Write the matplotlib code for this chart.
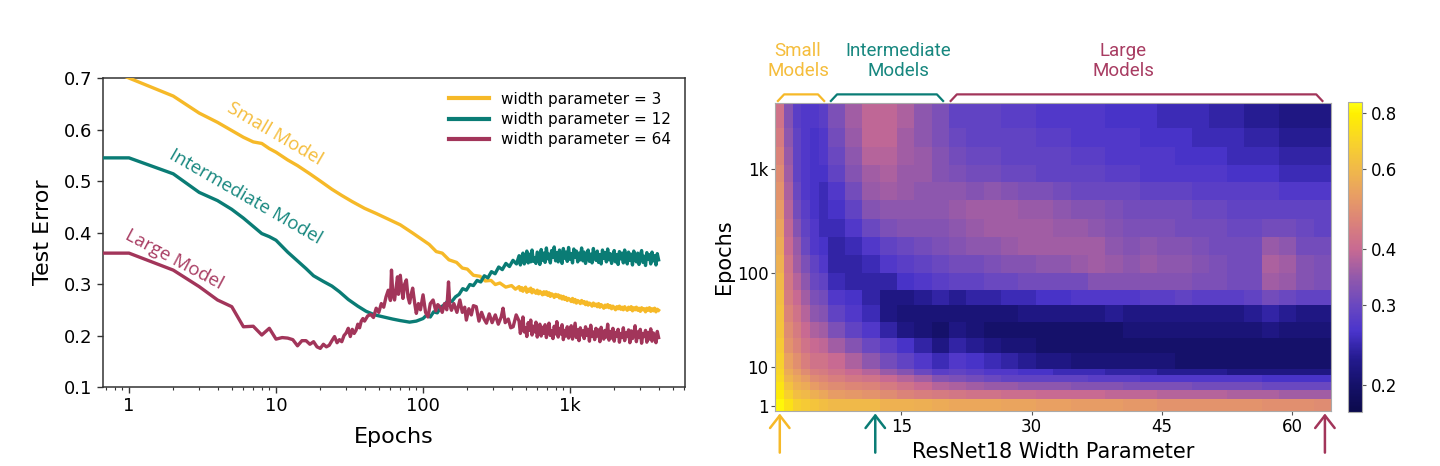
import numpy as np
import matplotlib
matplotlib.use("Agg")
import matplotlib.pyplot as plt
from matplotlib.colors import LinearSegmentedColormap, LogNorm
from matplotlib.ticker import FixedLocator, NullLocator, FixedFormatter, NullFormatter
import matplotlib.transforms as mtransforms

plt.rcParams['font.family'] = ['DejaVu Sans']

# ---------------- data: left panel (test error vs epochs) ----------------
series_labels = ["width parameter = 3", "width parameter = 12", "width parameter = 64"]

small_head_epochs = [0.5, 1, 2, 3, 4, 5, 6, 7, 8, 9, 10, 12, 14, 17, 20, 24, 28, 33, 40, 48,
                     57, 70, 85, 100, 110, 123, 135, 150, 169, 185, 200, 220, 244, 265, 290, 310,
                     333, 365, 400, 425]
small_head = [0.735, 0.700, 0.665, 0.632, 0.614, 0.598, 0.585, 0.576, 0.573, 0.563,
              0.556, 0.541, 0.530, 0.514, 0.500, 0.484, 0.472, 0.460, 0.447, 0.437,
              0.427, 0.415, 0.399, 0.385, 0.377, 0.363, 0.360, 0.347, 0.342, 0.331,
              0.329, 0.317, 0.315, 0.306, 0.307, 0.299, 0.302, 0.294, 0.297, 0.290]

mid_head_epochs = [0.5, 1, 2, 3, 4, 5, 6, 7, 8, 9, 10, 12, 14, 16, 18, 21, 24, 27, 31, 36,
                   41, 47, 54, 62, 70, 81, 90, 100, 106, 112, 118, 125, 132, 140, 148, 157,
                   166, 176, 186, 197, 208, 220, 233, 247, 261, 276, 292, 309, 327, 346,
                   366, 387, 409, 432]
mid_head = [0.545, 0.545, 0.514, 0.478, 0.462, 0.445, 0.428, 0.412, 0.398, 0.392,
            0.385, 0.362, 0.345, 0.330, 0.316, 0.305, 0.296, 0.285, 0.270, 0.257,
            0.247, 0.240, 0.236, 0.232, 0.229, 0.226, 0.228, 0.233, 0.240, 0.236,
            0.246, 0.244, 0.255, 0.260, 0.268, 0.266, 0.275, 0.280, 0.291, 0.288,
            0.299, 0.297, 0.307, 0.304, 0.316, 0.312, 0.324, 0.320, 0.333, 0.328,
            0.340, 0.334, 0.346, 0.339]

large_head_epochs = [0.5, 1, 2, 3, 4, 5, 6, 7, 8, 9,
                     10, 11, 12, 13, 14, 15, 16, 17, 18, 19,
                     20, 21, 22, 23, 24, 25, 26, 27, 28, 29,
                     30, 31, 32, 33, 34, 35, 36, 37, 38, 39,
                     40, 42, 44, 46, 48, 50, 52, 54, 56, 58,
                     60, 61, 62, 63, 64, 66, 67, 68, 70, 72,
                     73, 75, 77, 79, 81, 83, 85, 88, 90, 93,
                     96, 100, 104, 108, 112, 117, 122, 126, 130, 135,
                     140, 145, 149, 152, 156, 162, 170, 178, 185, 192,
                     197, 205, 213, 220, 230, 240, 250, 260, 270, 282,
                     295, 310, 325, 340, 350, 362, 380, 395, 410, 430]
large_head = [0.360, 0.360, 0.327, 0.295, 0.269, 0.256, 0.217, 0.218, 0.201, 0.214,
              0.193, 0.196, 0.195, 0.192, 0.180, 0.190, 0.190, 0.183, 0.188, 0.178,
              0.175, 0.183, 0.178, 0.181, 0.190, 0.198, 0.186, 0.192, 0.188, 0.200,
              0.205, 0.214, 0.198, 0.212, 0.204, 0.210, 0.222, 0.215, 0.228, 0.233,
              0.228, 0.238, 0.241, 0.235, 0.253, 0.245, 0.262, 0.255, 0.275, 0.288,
              0.268, 0.327, 0.290, 0.275, 0.269, 0.300, 0.314, 0.280, 0.317, 0.285,
              0.272, 0.300, 0.308, 0.275, 0.263, 0.280, 0.292, 0.260, 0.243, 0.262,
              0.250, 0.279, 0.245, 0.236, 0.262, 0.269, 0.248, 0.260, 0.256, 0.245,
              0.262, 0.250, 0.304, 0.260, 0.249, 0.262, 0.245, 0.269, 0.245, 0.255,
              0.230, 0.252, 0.240, 0.258, 0.256, 0.228, 0.245, 0.232, 0.224, 0.242,
              0.225, 0.240, 0.222, 0.236, 0.253, 0.225, 0.232, 0.215, 0.217, 0.240]

tail_epochs = [450, 459, 469, 478, 488, 498, 508, 519, 529, 540,
               551, 563, 574, 586, 598, 611, 623, 636, 649, 663,
               676, 690, 705, 719, 734, 749, 765, 780, 797, 813,
               830, 847, 864, 882, 900, 919, 938, 957, 977, 997,
               1018, 1039, 1060, 1082, 1104, 1127, 1150, 1174, 1198, 1223,
               1248, 1274, 1300, 1327, 1354, 1382, 1411, 1440, 1470, 1500,
               1531, 1562, 1595, 1627, 1661, 1695, 1730, 1766, 1802, 1840,
               1878, 1916, 1956, 1996, 2037, 2079, 2122, 2166, 2211, 2257,
               2303, 2351, 2399, 2449, 2499, 2551, 2604, 2657, 2712, 2768,
               2825, 2884, 2943, 3004, 3066, 3129, 3194, 3260, 3327, 3396,
               3466, 3537, 3610, 3685, 3761, 3839, 3918, 4000]
small_tail = [0.295, 0.288, 0.293, 0.286, 0.291, 0.294, 0.284, 0.290, 0.286, 0.292,
              0.283, 0.289, 0.285, 0.282, 0.288, 0.281, 0.286, 0.283, 0.279, 0.285,
              0.280, 0.285, 0.278, 0.283, 0.276, 0.281, 0.279, 0.274, 0.280, 0.276,
              0.279, 0.273, 0.277, 0.271, 0.276, 0.270, 0.274, 0.268, 0.272, 0.270,
              0.266, 0.272, 0.265, 0.270, 0.263, 0.268, 0.266, 0.262, 0.268, 0.263,
              0.266, 0.260, 0.265, 0.259, 0.263, 0.261, 0.257, 0.263, 0.258, 0.261,
              0.256, 0.262, 0.255, 0.260, 0.257, 0.253, 0.259, 0.255, 0.260, 0.254,
              0.258, 0.252, 0.257, 0.254, 0.250, 0.256, 0.252, 0.257, 0.251, 0.255,
              0.250, 0.256, 0.252, 0.249, 0.255, 0.251, 0.256, 0.248, 0.254, 0.250,
              0.255, 0.249, 0.253, 0.247, 0.254, 0.250, 0.252, 0.246, 0.253, 0.249,
              0.254, 0.247, 0.252, 0.248, 0.253, 0.246, 0.251, 0.249]
mid_tail = [0.355, 0.337, 0.352, 0.360, 0.339, 0.349, 0.364, 0.341, 0.358, 0.343,
            0.366, 0.344, 0.351, 0.340, 0.362, 0.357, 0.338, 0.367, 0.346, 0.360,
            0.342, 0.370, 0.349, 0.358, 0.341, 0.365, 0.352, 0.372, 0.345, 0.361,
            0.343, 0.366, 0.355, 0.340, 0.369, 0.350, 0.362, 0.344, 0.371, 0.348,
            0.359, 0.341, 0.368, 0.352, 0.364, 0.343, 0.360, 0.347, 0.370, 0.345,
            0.362, 0.340, 0.355, 0.366, 0.344, 0.358, 0.341, 0.369, 0.351, 0.346,
            0.364, 0.342, 0.357, 0.339, 0.366, 0.350, 0.361, 0.343, 0.368, 0.347,
            0.359, 0.340, 0.354, 0.365, 0.343, 0.357, 0.338, 0.363, 0.349, 0.360,
            0.341, 0.366, 0.352, 0.339, 0.362, 0.346, 0.358, 0.337, 0.364, 0.350,
            0.343, 0.360, 0.338, 0.356, 0.365, 0.342, 0.354, 0.336, 0.361, 0.348,
            0.357, 0.339, 0.362, 0.345, 0.355, 0.337, 0.359, 0.347]
large_tail = [0.228, 0.204, 0.219, 0.236, 0.207, 0.215, 0.198, 0.225, 0.210, 0.230,
              0.201, 0.218, 0.207, 0.226, 0.197, 0.213, 0.222, 0.199, 0.216, 0.204,
              0.221, 0.196, 0.212, 0.224, 0.200, 0.209, 0.194, 0.218, 0.203, 0.227,
              0.197, 0.214, 0.203, 0.221, 0.192, 0.210, 0.199, 0.217, 0.195, 0.206,
              0.219, 0.193, 0.208, 0.224, 0.196, 0.211, 0.190, 0.215, 0.201, 0.209,
              0.194, 0.217, 0.200, 0.212, 0.189, 0.220, 0.198, 0.207, 0.192, 0.214,
              0.199, 0.211, 0.188, 0.216, 0.202, 0.193, 0.210, 0.197, 0.222, 0.191,
              0.208, 0.195, 0.214, 0.189, 0.206, 0.199, 0.212, 0.187, 0.204, 0.196,
              0.215, 0.190, 0.205, 0.198, 0.211, 0.186, 0.209, 0.194, 0.203, 0.219,
              0.188, 0.207, 0.196, 0.212, 0.185, 0.204, 0.198, 0.210, 0.187, 0.206,
              0.193, 0.213, 0.189, 0.205, 0.197, 0.186, 0.208, 0.196]

# ---------------- data: right panel (heatmap) ----------------
width_starts = [1, 2, 3, 4, 5, 6, 7, 9, 11, 13, 15, 17, 19, 21, 23, 25, 27, 29, 31, 33,
                35, 37, 39, 41, 43, 45, 47, 49, 51, 53, 55, 57, 59, 61, 63]
max_width = 64
# row edges in epochs (top -> bottom)
epoch_edges = [4400, 2500, 1650, 1100, 750, 500, 330, 220, 150, 100, 65, 45, 30, 20, 14,
               9, 6, 4, 2.5, 1.5, 0.75]
# test error (%) per width group, rows from top (most epochs) to bottom (epoch 1)
err_w1 = [42, 44, 46, 48, 50, 52, 54, 56, 58, 60, 62, 63, 64, 66, 68, 70, 72, 75, 78, 82]
err_w2 = [33, 34, 35, 36, 37, 38, 39, 40, 42, 43, 44, 46, 48, 50, 53, 56, 59, 63, 68, 74]
err_w3 = [28, 29, 29, 29, 30, 31, 33, 35, 36, 38, 40, 42, 44, 46, 49, 52, 55, 58, 62, 68]
err_w4 = [27, 27, 27, 27, 27, 28, 29, 30, 32, 34, 36, 38, 40, 42, 45, 48, 52, 56, 60, 66]
err_w5 = [27, 26, 26, 26, 26, 26, 27, 27, 29, 30, 32, 34, 37, 40, 42, 45, 48, 52, 57, 64]
err_w6 = [28, 27, 27, 26, 25, 25, 25, 26, 27, 29, 31, 33, 36, 39, 42, 44, 47, 50, 55, 62]
err_w7_8 = [32, 31, 30, 29, 27, 26, 25, 24, 24, 25, 27, 29, 32, 36, 40, 42, 45, 48, 52, 60]
err_w9_10 = [36, 35, 34, 33, 31, 29, 27, 25, 24, 24, 26, 27, 29, 33, 37, 40, 43, 47, 51, 60]
err_w11_12 = [39, 39, 38, 36, 35, 33, 30, 27, 25, 24, 24, 25, 27, 30, 34, 38, 42, 46, 50, 60]
err_w13_14 = [39, 39, 38, 37, 36, 34, 32, 29, 27, 24, 22, 22, 24, 28, 31, 35, 40, 44, 48, 58]
err_w15_16 = [37, 36, 36, 35, 35, 34, 33, 30, 28, 26, 22, 21, 22, 26, 29, 33, 38, 42, 46, 58]
err_w17_18 = [34, 34, 35, 35, 34, 34, 33, 31, 29, 27, 23, 21, 21, 24, 27, 30, 36, 40, 45, 57]
err_w19_20 = [32, 32, 33, 33, 34, 34, 33, 32, 30, 28, 24, 21, 20, 22, 25, 28, 33, 38, 44, 56]
err_w21_22 = [29, 30, 31, 32, 34, 35, 34, 33, 31, 29, 23, 21, 22, 24, 27, 29, 32, 37, 43, 55]
err_w23_24 = [29, 29, 30, 31, 33, 36, 35, 34, 31, 29, 24, 21, 21, 23, 26, 28, 31, 36, 42, 55]
err_w25_26 = [29, 29, 30, 31, 34, 36, 36, 34, 32, 30, 24, 21, 20, 22, 25, 27, 30, 35, 42, 55]
err_w27_28 = [28, 29, 29, 30, 33, 36, 36, 35, 33, 30, 25, 21, 20, 21, 24, 27, 29, 35, 41, 54]
err_w29_30 = [28, 29, 29, 30, 32, 35, 36, 36, 33, 31, 25, 22, 20, 21, 23, 26, 29, 34, 41, 54]
err_w31_32 = [27, 28, 29, 29, 32, 35, 36, 36, 34, 31, 26, 22, 20, 20, 22, 26, 29, 34, 40, 53]
err_w33_34 = [27, 28, 29, 29, 31, 34, 35, 36, 34, 31, 26, 22, 20, 20, 22, 25, 29, 34, 40, 53]
err_w35_36 = [27, 27, 28, 29, 30, 33, 35, 36, 35, 31, 27, 22, 20, 20, 21, 25, 29, 33, 40, 52]
err_w37_38 = [27, 27, 28, 29, 30, 33, 34, 36, 36, 33, 27, 22, 20, 20, 21, 25, 28, 33, 40, 52]
err_w39_40 = [26, 27, 27, 28, 30, 32, 33, 34, 35, 33, 27, 23, 20, 20, 21, 24, 28, 33, 39, 52]
err_w41_42 = [26, 27, 27, 28, 30, 31, 32, 33, 34, 33, 27, 22, 21, 20, 21, 24, 28, 32, 39, 51]
err_w43_44 = [26, 26, 27, 27, 29, 31, 32, 34, 35, 33, 28, 22, 21, 20, 21, 24, 27, 32, 39, 51]
err_w45_46 = [25, 26, 27, 27, 29, 31, 32, 33, 34, 33, 28, 22, 21, 20, 21, 23, 27, 32, 38, 50]
err_w47_48 = [25, 26, 26, 27, 29, 31, 31, 33, 34, 33, 29, 22, 21, 20, 20, 23, 27, 32, 38, 50]
err_w49_50 = [25, 25, 26, 27, 28, 30, 31, 32, 33, 32, 28, 22, 21, 20, 20, 23, 27, 31, 38, 50]
err_w51_52 = [24, 25, 26, 27, 28, 30, 31, 31, 32, 32, 28, 22, 21, 20, 20, 23, 27, 31, 38, 50]
err_w53_54 = [24, 25, 25, 26, 28, 29, 30, 31, 31, 31, 28, 22, 21, 20, 20, 22, 27, 31, 37, 50]
err_w55_56 = [23, 24, 25, 26, 28, 29, 30, 31, 31, 31, 29, 23, 21, 20, 20, 22, 27, 31, 37, 50]
err_w57_58 = [23, 24, 25, 26, 28, 29, 31, 35, 37, 36, 31, 24, 22, 20, 20, 22, 26, 30, 37, 49]
err_w59_60 = [22, 23, 24, 25, 27, 29, 31, 34, 36, 35, 30, 23, 21, 20, 20, 22, 26, 30, 36, 49]
err_w61_62 = [22, 23, 24, 25, 27, 29, 30, 31, 33, 33, 29, 22, 21, 20, 20, 22, 26, 30, 36, 49]
err_w63_64 = [22, 23, 24, 25, 27, 29, 29, 31, 32, 32, 29, 22, 21, 20, 20, 22, 26, 30, 36, 48]

err_columns = [err_w1, err_w2, err_w3, err_w4, err_w5, err_w6, err_w7_8, err_w9_10,
               err_w11_12, err_w13_14, err_w15_16, err_w17_18, err_w19_20, err_w21_22,
               err_w23_24, err_w25_26, err_w27_28, err_w29_30, err_w31_32, err_w33_34,
               err_w35_36, err_w37_38, err_w39_40, err_w41_42, err_w43_44, err_w45_46,
               err_w47_48, err_w49_50, err_w51_52, err_w53_54, err_w55_56, err_w57_58,
               err_w59_60, err_w61_62, err_w63_64]

cbar_ticks = [0.2, 0.3, 0.4, 0.6, 0.8]
heat_yticks = [1, 10, 100, 1000]
heat_yticklabels = ["1", "10", "100", "1k"]
heat_xticks = [15, 30, 45, 60]

# ---------------- styling ----------------
C_SMALL = "#f6b928"
C_MID = "#0a7c75"
C_LARGE = "#a2355a"
T_SMALL = "#f5bd3c"
T_MID = "#17877f"
T_LARGE = "#a83c62"

fig = plt.figure(figsize=(14.4, 4.66), dpi=100)

# ================= left panel =================
ax = fig.add_axes([0.0715, 0.1695, 0.4042, 0.663])
ax.plot(small_head_epochs + tail_epochs, small_head + small_tail, color=C_SMALL, lw=2.4,
        label=series_labels[0], zorder=3)
ax.plot(mid_head_epochs + tail_epochs, mid_head + mid_tail, color=C_MID, lw=2.4,
        label=series_labels[1], zorder=3)
ax.plot(large_head_epochs + tail_epochs, large_head + large_tail, color=C_LARGE, lw=2.4,
        label=series_labels[2], zorder=4)
ax.set_xscale("log")
ax.set_xlim(0.665, 6050)
ax.set_ylim(0.1, 0.7)
ax.xaxis.set_major_locator(FixedLocator([1, 10, 100, 1000]))
ax.xaxis.set_major_formatter(FixedFormatter(["1", "10", "100", "1k"]))
ax.xaxis.set_minor_formatter(NullFormatter())
ax.set_yticks([0.1, 0.2, 0.3, 0.4, 0.5, 0.6, 0.7])
ax.set_yticklabels(["0.1", "0.2", "0.3", "0.4", "0.5", "0.6", "0.7"])
ax.tick_params(axis="both", which="major", labelsize=13, length=4, width=1, color="#333333")
ax.tick_params(axis="x", which="minor", length=2.5, width=0.8, color="#333333")
for s in ax.spines.values():
    s.set_color("#333333")
    s.set_linewidth(1.1)
ax.set_xlabel("Epochs", fontsize=16, labelpad=8)
ax.set_ylabel("Test Error", fontsize=16, labelpad=8)
leg = ax.legend(loc="upper right", frameon=False, fontsize=11, handlelength=2.6,
                labelspacing=0.35, borderaxespad=0.5)
for h in leg.legend_handles:
    h.set_linewidth(3)

ann_font = ["Open Sans", "DejaVu Sans"]
ax.text(9.83, 0.591, "Small Model", color=T_SMALL, fontsize=13.5, rotation=-30.4,
        ha="center", va="center", rotation_mode="anchor", family=ann_font)
ax.text(6.23, 0.4695, "Intermediate Model", color=T_MID, fontsize=13.5, rotation=-29.9,
        ha="center", va="center", rotation_mode="anchor", family=ann_font)
ax.text(2.03, 0.348, "Large Model", color=T_LARGE, fontsize=13.5, rotation=-28,
        ha="center", va="center", rotation_mode="anchor", family=ann_font)

# ================= right panel =================
cmap = LinearSegmentedColormap.from_list("dd", [
    (0.0, "#0b0a4c"), (0.087, "#15116a"), (0.17, "#231a8e"), (0.26, "#4a34cc"),
    (0.344, "#6a48c0"), (0.43, "#9058ac"), (0.526, "#c86a92"), (0.62, "#dc8478"),
    (0.70, "#e89e64"), (0.782, "#f0b84a"), (0.87, "#f8d22c"), (0.964, "#fff000"),
    (1.0, "#ffff14")])
norm = LogNorm(vmin=0.174, vmax=0.846)

ey_logs = [np.log10(0.75), 0.0, 1.0, 2.0, 3.0, np.log10(4400)]
ey_pos = [0.0, 5.0, 44.3, 138.3, 241.7, 308.3]


def fwd(e):
    e = np.asarray(e, dtype=float)
    return np.interp(np.log10(np.clip(e, 1e-3, None)), ey_logs, ey_pos)


def inv(p):
    p = np.asarray(p, dtype=float)
    return 10 ** np.interp(p, ey_pos, ey_logs)


ax2 = fig.add_axes([0.5385, 0.118, 0.3858, 0.6616])
ax2.set_yscale("function", functions=(fwd, inv))
col_edges = np.array(width_starts + [max_width + 1], dtype=float) - 0.5
Z = np.array(err_columns, dtype=float).T / 100.0
mesh = ax2.pcolormesh(col_edges, np.array(epoch_edges, dtype=float), Z, cmap=cmap,
                      norm=norm, shading="flat", rasterized=True)
ax2.set_xlim(0.5, 64.5)
ax2.set_ylim(0.75, 4400)
ax2.yaxis.set_major_locator(FixedLocator(heat_yticks))
ax2.yaxis.set_major_formatter(FixedFormatter(heat_yticklabels))
ax2.yaxis.set_minor_locator(NullLocator())
ax2.xaxis.set_major_locator(FixedLocator(heat_xticks))
ax2.xaxis.set_minor_locator(NullLocator())
ax2.tick_params(axis="both", labelsize=12, length=3, width=0.8, color="#555555", pad=2)
for s in ax2.spines.values():
    s.set_color("#aaaaaa")
    s.set_linewidth(0.8)
ax2.set_xlabel("ResNet18 Width Parameter", fontsize=15, labelpad=4)
ax2.set_ylabel("Epochs", fontsize=15, labelpad=2)

# colorbar
cax = fig.add_axes([0.9361, 0.1159, 0.0097, 0.665])
cb = fig.colorbar(mesh, cax=cax)
cb.set_ticks(cbar_ticks)
cb.set_ticklabels(["0.2", "0.3", "0.4", "0.6", "0.8"])
cb.ax.yaxis.set_minor_locator(NullLocator())
cb.ax.tick_params(labelsize=12, length=3, width=0.8, color="#555555")
cb.outline.set_edgecolor("#aaaaaa")
cb.outline.set_linewidth(0.8)

# group labels, brackets and arrows
trans = mtransforms.blended_transform_factory(ax2.transData, ax2.transAxes)
lab_font = ["Roboto", "DejaVu Sans"]
ax2.text(3.1, 1.135, "Small\nModels", transform=trans, color=T_SMALL, fontsize=13.5,
         ha="center", va="center", family=lab_font, linespacing=1.2)
ax2.text(14.7, 1.135, "Intermediate\nModels", transform=trans, color=T_MID, fontsize=13.5,
         ha="center", va="center", family=lab_font, linespacing=1.2)
ax2.text(40.6, 1.135, "Large\nModels", transform=trans, color=T_LARGE, fontsize=13.5,
         ha="center", va="center", family=lab_font, linespacing=1.2)

for x0, x1, c in [(0.7, 6.2, C_SMALL), (6.8, 19.9, C_MID), (20.6, 63.6, C_LARGE)]:
    ax2.plot([x0, x0 + 0.8, x1 - 0.8, x1], [1.003, 1.027, 1.027, 1.003], transform=trans,
             color=c, lw=1.6, clip_on=False, solid_capstyle="butt")

for xa, c in [(1, C_SMALL), (12, C_MID), (63.8, C_LARGE)]:
    ax2.annotate("", xy=(xa, -0.008), xytext=(xa, -0.135), xycoords=trans, textcoords=trans,
                 arrowprops=dict(arrowstyle="->,head_length=0.45,head_width=0.35", color=c,
                                 lw=1.8, mutation_scale=20, shrinkA=0, shrinkB=0))

fig.savefig("out.png", dpi=100)
